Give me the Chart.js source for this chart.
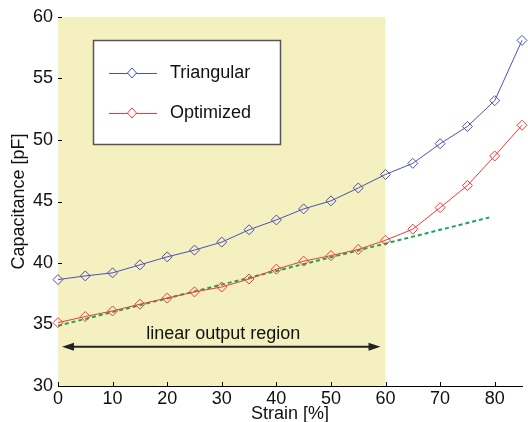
<!DOCTYPE html>
<html>
<head>
<meta charset="utf-8">
<script src="https://cdn.jsdelivr.net/npm/chart.js@4.4.0/dist/chart.umd.min.js"></script>
<style>
  html, body { margin: 0; padding: 0; background: #fff; }
  #wrap { width: 528px; height: 422px; }
</style>
</head>
<body>
<div id="wrap"><canvas id="capChart" width="528" height="422"></canvas></div>
<script>
// Data
const strain = [0, 5, 10, 15, 20, 25, 30, 35, 40, 45, 50, 55, 60, 65, 70, 75, 80, 85];
const triangular = [38.65, 38.95, 39.2, 39.85, 40.5, 41.05, 41.7, 42.7, 43.5, 44.4, 45.05, 46.1, 47.2, 48.1, 49.7, 51.1, 53.2, 58.1];
const optimized = [35.15, 35.65, 36.1, 36.65, 37.15, 37.65, 38.05, 38.7, 39.5, 40.15, 40.6, 41.1, 41.85, 42.75, 44.5, 46.3, 48.7, 51.2];
const fitX = [0, 79];
const fitY = [34.9, 43.7];
const xTicks = [0, 10, 20, 30, 40, 50, 60, 70, 80];
const regionStart = 0;
const regionEnd = 60;
const arrowLevel = 33.2;
const regionLabel = 'linear output region';

const FONT = '"Liberation Sans", Arial, sans-serif';

function toPoints(xs, ys) {
    return xs.map((x, i) => ({ x: x, y: ys[i] }));
}

// yellow band, inward ticks, arrow, legend box
const decorPlugin = {
    id: 'decor',
    beforeDatasetsDraw(chart) {
        const { ctx, chartArea, scales } = chart;
        const x0 = scales.x.getPixelForValue(regionStart);
        const x1 = scales.x.getPixelForValue(regionEnd);
        ctx.save();
        ctx.fillStyle = '#f5f0bf';
        ctx.fillRect(x0, chartArea.top, x1 - x0, chartArea.bottom - chartArea.top);

        // inward tick marks
        ctx.strokeStyle = '#000';
        ctx.lineWidth = 1;
        ctx.beginPath();
        scales.x.ticks.forEach(t => {
            const px = Math.round(scales.x.getPixelForValue(t.value)) + 0.5;
            ctx.moveTo(px, chartArea.bottom);
            ctx.lineTo(px, chartArea.bottom - 4);
        });
        scales.y.ticks.forEach(t => {
            const py = Math.round(scales.y.getPixelForValue(t.value)) + 0.5;
            ctx.moveTo(chartArea.left, py);
            ctx.lineTo(chartArea.left + 4, py);
        });
        ctx.stroke();

        // double arrow
        const ay = scales.y.getPixelForValue(arrowLevel);
        const ax0 = scales.x.getPixelForValue(regionStart) + 4;
        const ax1 = scales.x.getPixelForValue(regionEnd) - 5;
        ctx.strokeStyle = '#222';
        ctx.fillStyle = '#222';
        ctx.lineWidth = 2;
        ctx.beginPath();
        ctx.moveTo(ax0 + 8, ay);
        ctx.lineTo(ax1 - 8, ay);
        ctx.stroke();
        ctx.beginPath();
        ctx.moveTo(ax0, ay);
        ctx.lineTo(ax0 + 12, ay - 4);
        ctx.lineTo(ax0 + 12, ay + 4);
        ctx.closePath();
        ctx.fill();
        ctx.beginPath();
        ctx.moveTo(ax1, ay);
        ctx.lineTo(ax1 - 12, ay - 4);
        ctx.lineTo(ax1 - 12, ay + 4);
        ctx.closePath();
        ctx.fill();

        ctx.font = '18px ' + FONT;
        ctx.fillStyle = '#111';
        ctx.textAlign = 'center';
        ctx.textBaseline = 'alphabetic';
        ctx.fillText(regionLabel, (ax0 + ax1) / 2 + 2, ay - 8);
        ctx.restore();
    },
    afterDraw(chart) {
        const { ctx } = chart;
        const bx = 93.5, by = 40.5, bw = 187, bh = 104;
        ctx.save();
        ctx.fillStyle = '#fff';
        ctx.fillRect(bx, by, bw, bh);
        ctx.strokeStyle = '#555';
        ctx.lineWidth = 1.5;
        ctx.strokeRect(bx, by, bw, bh);

        const items = chart.data.datasets.filter(d => d.inLegend);
        items.forEach((d, i) => {
            const ly = 73 + i * 40;
            ctx.strokeStyle = d.borderColor;
            ctx.lineWidth = 1;
            ctx.beginPath();
            ctx.moveTo(109, ly + 0.5);
            ctx.lineTo(157, ly + 0.5);
            ctx.stroke();
            ctx.fillStyle = '#fff';
            ctx.beginPath();
            ctx.moveTo(132, ly - 5);
            ctx.lineTo(136.5, ly);
            ctx.lineTo(132, ly + 5);
            ctx.lineTo(127.5, ly);
            ctx.closePath();
            ctx.fill();
            ctx.stroke();
            ctx.fillStyle = '#111';
            ctx.font = '18px ' + FONT;
            ctx.textAlign = 'left';
            ctx.textBaseline = 'middle';
            ctx.fillText(d.label, 170, ly);
        });
        ctx.restore();
    }
};

const ctx = document.getElementById('capChart').getContext('2d');
new Chart(ctx, {
    type: 'line',
    data: {
        datasets: [
            {
                label: 'Triangular',
                inLegend: true,
                data: toPoints(strain, triangular),
                borderColor: '#4b50b4',
                backgroundColor: 'rgba(0,0,0,0)',
                borderWidth: 1,
                pointStyle: 'rectRot',
                pointRadius: 5,
                pointBorderWidth: 1,
                pointBackgroundColor: 'rgba(0,0,0,0)',
                tension: 0
            },
            {
                label: 'Optimized',
                inLegend: true,
                data: toPoints(strain, optimized),
                borderColor: '#f03a3a',
                backgroundColor: 'rgba(0,0,0,0)',
                borderWidth: 1,
                pointStyle: 'rectRot',
                pointRadius: 5,
                pointBorderWidth: 1,
                pointBackgroundColor: 'rgba(0,0,0,0)',
                tension: 0
            },
            {
                label: 'Linear fit',
                inLegend: false,
                data: toPoints(fitX, fitY),
                borderColor: '#1aa65a',
                borderWidth: 2,
                borderDash: [4, 3],
                pointRadius: 0,
                tension: 0
            }
        ]
    },
    options: {
        responsive: false,
        animation: false,
        clip: false,
        layout: { padding: { top: 17, right: 4, left: 8, bottom: 0 } },
        plugins: {
            legend: { display: false },
            tooltip: { enabled: false }
        },
        scales: {
            x: {
                type: 'linear',
                min: 0,
                max: 85,
                afterBuildTicks: scale => {
                    scale.ticks = xTicks.map(v => ({ value: v }));
                },
                afterFit: scale => { scale.height = 36; },
                grid: { display: false, drawTicks: false },
                border: { display: true, color: '#000', width: 1 },
                ticks: {
                    padding: 2,
                    color: '#111',
                    font: { family: FONT, size: 18 },
                    maxRotation: 0
                },
                title: {
                    display: true,
                    text: 'Strain [%]',
                    color: '#111',
                    padding: { top: 0, bottom: -3 },
                    font: { family: FONT, size: 18 }
                }
            },
            y: {
                min: 30,
                max: 60,
                afterFit: scale => { scale.width = 50; },
                grid: { display: false, drawTicks: false },
                border: { display: true, color: '#000', width: 1 },
                ticks: {
                    stepSize: 5,
                    padding: 5,
                    color: '#111',
                    font: { family: FONT, size: 18 }
                },
                title: {
                    display: true,
                    text: 'Capacitance [pF]',
                    color: '#111',
                    padding: { top: 0, bottom: 0 },
                    font: { family: FONT, size: 18 }
                }
            }
        }
    },
    plugins: [decorPlugin]
});
</script>
</body>
</html>
